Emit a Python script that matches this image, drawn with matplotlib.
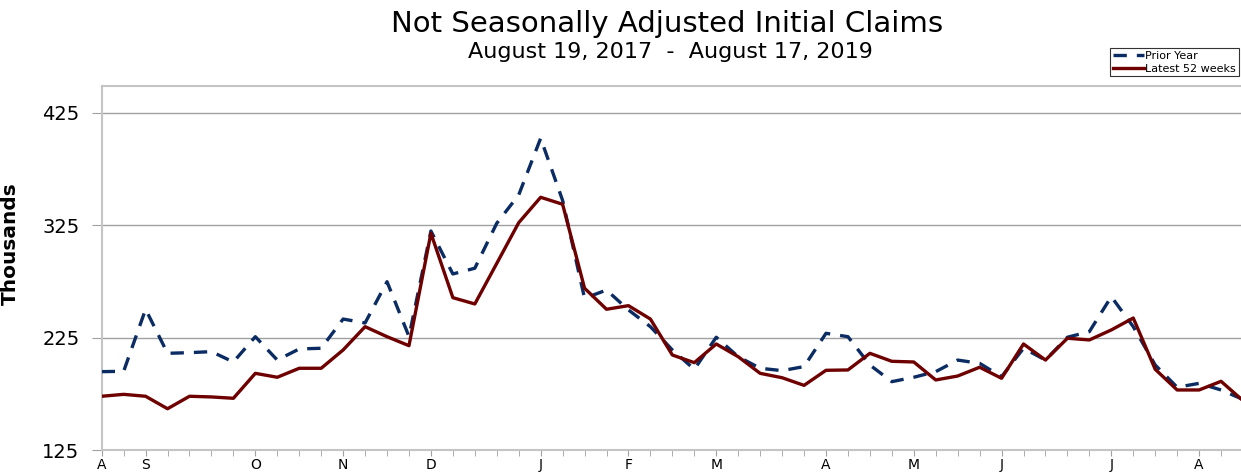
import matplotlib.pyplot as plt
import numpy as np

plt.rcParams['font.family'] = ['DejaVu Sans']

# weekly claims, thousands (week ending Aug 18 2018 .. Aug 17 2019)
latest = [172.8, 174.5, 172.8, 161.7, 172.8, 172.2, 171.0, 193.2, 189.7, 197.7,
          197.7, 214.0, 234.7, 225.8, 217.8, 317.8, 260.5, 254.9, 291.0, 327.2,
          349.8, 343.6, 268.9, 250.2, 253.4, 241.5, 209.5, 202.7, 219.3, 208.0,
          193.2, 189.3, 182.5, 195.9, 196.2, 211.0, 203.9, 203.3, 187.3, 190.8,
          198.6, 188.8, 219.3, 205.0, 224.4, 222.9, 231.8, 242.4, 196.8, 178.4,
          178.4, 186.1, 168.9]
prior = [194.7, 195.0, 250.2, 211.0, 211.6, 212.5, 203.3, 225.8, 205.0, 214.9,
         215.5, 241.5, 238.0, 274.7, 226.0, 319.8, 281.6, 286.7, 326.7, 351.9,
         402.3, 347.0, 260.0, 267.3, 249.6, 234.7, 214.0, 196.8, 225.3, 208.0,
         197.7, 195.6, 199.2, 228.8, 225.8, 200.6, 185.8, 189.7, 194.7, 205.0,
         202.1, 190.2, 215.5, 205.0, 225.3, 230.3, 261.4, 234.7, 200.6, 180.8,
         184.3, 178.4, 170.0]
month_pos = [0, 2, 7, 11, 15, 20, 24, 28, 33, 37, 41, 46, 50]
month_lbl = ['A', 'S', 'O', 'N', 'D', 'J', 'F', 'M', 'A', 'M', 'J', 'J', 'A']
yticks = [125, 225, 325, 425]

W, H = 1241, 474
fig = plt.figure(figsize=(W / 100, H / 100), dpi=100)
ax = fig.add_axes([101.7 / W, 24 / H, (1243 - 101.7) / W, (450 - 86) / H])

x = np.arange(len(latest))
ax.plot(x, prior, color='#0b2c62', lw=2.4, dashes=(4, 3), label='Prior Year', zorder=4)
ax.plot(x, latest, color='#6e0000', lw=2.4, label='Latest 52 weeks', zorder=5)

ax.set_xlim(0, 52)
ax.set_ylim(125, 448.8)
ax.set_yticks(yticks)
ax.set_yticklabels([str(v) for v in yticks], fontsize=14)
ax.set_xticks(x, minor=True)
ax.set_xticks(month_pos)
ax.set_xticklabels(month_lbl, fontsize=10)
ax.tick_params(axis='x', which='both', length=4, color='#a0a0a0', pad=2)
ax.tick_params(axis='y', length=7, color='#a0a0a0', pad=9)
ax.yaxis.grid(True, color='#a0a0a0', lw=1)
ax.set_axisbelow(True)
for s in ['left', 'top', 'bottom']:
    ax.spines[s].set_color('#c4c4c4')
    ax.spines[s].set_linewidth(1.5)
ax.spines['right'].set_visible(False)

ax.set_ylabel('Thousands', fontsize=14.5, fontweight='bold')
ax.yaxis.set_label_coords(-0.0716, 0.566)

fig.text(0.5375, 1 - 32 / H, 'Not Seasonally Adjusted Initial Claims', ha='center', va='baseline', fontsize=21)
fig.text(0.540, 1 - 58 / H, 'August 19, 2017  -  August 17, 2019', ha='center', va='baseline', fontsize=16)

leg = fig.legend(loc='upper left', bbox_to_anchor=(1110 / W, 1 - 48 / H), fontsize=8,
                 frameon=True, fancybox=False, handlelength=2.8, handletextpad=0.1,
                 borderpad=0.25, labelspacing=0.25, borderaxespad=0)
leg.get_frame().set_edgecolor('black')
leg.get_frame().set_linewidth(0.8)

fig.savefig('out.png', dpi=100)
